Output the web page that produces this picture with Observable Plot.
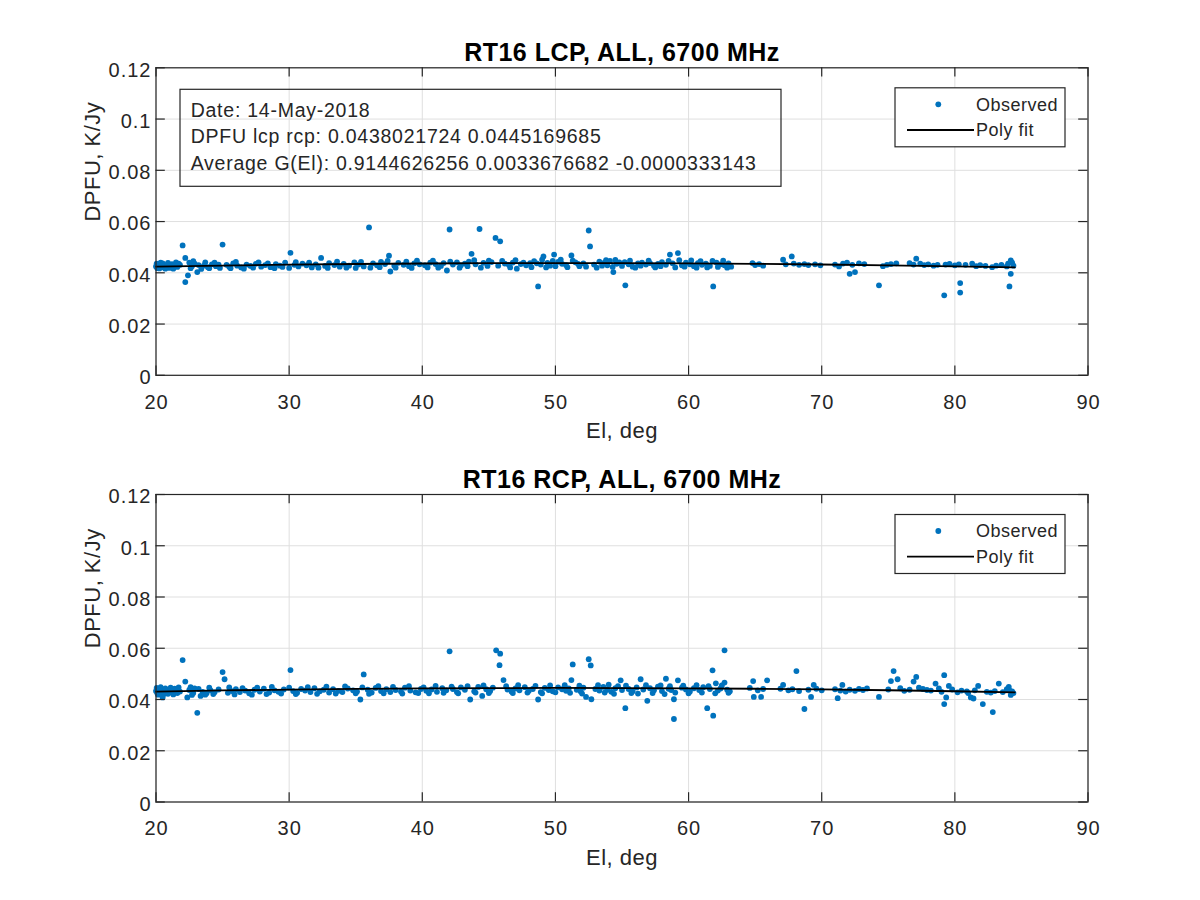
<!DOCTYPE html>
<html>
<head>
<meta charset="utf-8">
<script src="https://cdn.jsdelivr.net/npm/d3@7"></script>
<script src="https://cdn.jsdelivr.net/npm/@observablehq/plot@0.6"></script>
<style>
  html, body { margin: 0; padding: 0; background: #fff; }
  #chart svg { display: block; }
</style>
</head>
<body>
<div id="chart"></div>
<script>
// ---------- tick values ----------
const xTicks = [20, 30, 40, 50, 60, 70, 80, 90];
const yTicks = [0, 0.02, 0.04, 0.06, 0.08, 0.1, 0.12];

// ---------- titles / labels ----------
const titleLCP = "RT16 LCP, ALL, 6700 MHz";
const titleRCP = "RT16 RCP, ALL, 6700 MHz";
const xLabel = "El, deg";
const yLabel = "DPFU, K/Jy";
const boxLines = [
  "Date: 14-May-2018",
  "DPFU lcp rcp: 0.0438021724 0.0445169685",
  "Average G(El): 0.9144626256 0.0033676682 -0.0000333143"
];
const legendLabels = ["Observed", "Poly fit"];

// ---------- poly fit (El, DPFU) ----------
const fitEl  = [20, 25, 30, 35, 40, 45, 50, 55, 60, 65, 70, 75, 80, 84.5];
const fitLCP = [0.04242, 0.04283, 0.04317, 0.04343, 0.04362, 0.04374, 0.04378, 0.04375, 0.04365, 0.04348, 0.04323, 0.04291, 0.04252, 0.04210];
const fitRCP = [0.04311, 0.04353, 0.04387, 0.04414, 0.04433, 0.04445, 0.04450, 0.04447, 0.04437, 0.04419, 0.04394, 0.04361, 0.04321, 0.04279];

// ---------- observed LCP [El, DPFU] ----------
const obsLCP = [
  [20.0,.0425],[20.1,.0418],[20.2,.0432],[20.3,.0428],[20.4,.0421],[20.5,.0437],[20.6,.0424],[20.8,.0430],
  [21.0,.0419],[21.2,.0434],[21.4,.0427],[21.6,.0423],[21.8,.0431],[22.5,.0440],[22.7,.0426],[22.9,.0436],
  [23.4,.0415],[23.6,.0428],[23.9,.0422],[24.2,.0433],[24.5,.0426],[24.8,.0419],[25.3,.0431],[25.5,.0424],
  [25.8,.0437],[26.1,.0428],[26.4,.0421],[26.8,.0432],[27.1,.0427],[27.5,.0435],[27.9,.0424],[28.2,.0430],
  [28.6,.0422],[29.0,.0434],[29.3,.0428],[29.7,.0440],[30.4,.0431],[30.7,.0425],[31.0,.0436],[31.3,.0429],
  [31.7,.0421],[32.0,.0433],[32.7,.0427],[33.0,.0438],[33.4,.0430],[33.8,.0424],[34.1,.0435],[34.5,.0428],
  [34.9,.0441],[35.2,.0432],[35.6,.0425],[36.3,.0437],[36.6,.0429],[36.9,.0443],[37.2,.0434],[37.9,.0428],
  [38.2,.0439],[38.6,.0431],[39.0,.0426],[39.4,.0437],[39.8,.0433],[40.2,.0429],[40.6,.0440],[41.0,.0434],
  [41.4,.0427],[41.6,.0438],[42.3,.0432],[42.6,.0441],[42.9,.0429],[43.2,.0436],[43.5,.0444],[44.0,.0433],
  [44.6,.0439],[44.9,.0427],[45.2,.0442],[46.2,.0436],[46.5,.0431],[46.8,.0440],[47.4,.0434],[47.8,.0429],
  [48.1,.0438],[48.4,.0445],[48.9,.0432],[49.4,.0439],[49.6,.0428],[50.2,.0443],[50.5,.0435],[50.8,.0430],
  [51.5,.0441],[51.8,.0426],[52.1,.0437],[52.9,.0432],[53.3,.0444],[53.6,.0438],[53.9,.0429],[54.1,.0446],
  [54.6,.0435],[54.8,.0441],[55.0,.0427],[55.5,.0433],[55.8,.0424],[56.2,.0437],[56.5,.0440],[56.8,.0432],
  [57.1,.0438],[57.4,.0428],[57.7,.0435],[58.0,.0442],[58.3,.0431],[58.8,.0437],[59.5,.0429],[59.8,.0440],
  [60.1,.0433],[60.4,.0426],[60.7,.0438],[61.0,.0431],[61.3,.0436],[61.6,.0427],[62.1,.0440],[62.4,.0433],
  [62.7,.0429],[63.0,.0437],[63.2,.0424],[64.8,.0438],[65.0,.0430],[65.3,.0434],[65.6,.0428],[67.3,.0433],
  [67.9,.0436],[68.3,.0431],[68.7,.0434],[69.0,.0430],[69.5,.0433],[69.9,.0429],[71.0,.0432],[71.3,.0425],
  [71.6,.0436],[71.9,.0440],[72.3,.0431],[72.8,.0437],[73.2,.0434],[74.6,.0426],[74.9,.0431],[75.2,.0434],
  [75.6,.0437],[76.6,.0438],[76.9,.0432],[77.4,.0436],[77.7,.0430],[78.0,.0433],[78.4,.0428],[78.7,.0431],
  [79.3,.0432],[79.6,.0435],[80.0,.0429],[80.3,.0433],[80.8,.0431],[81.3,.0436],[81.6,.0426],[81.9,.0430],
  [82.3,.0427],[82.8,.0422],[83.1,.0428],[83.5,.0431],[83.9,.0425],[84.0,.0436],[84.3,.0440],[84.4,.0428],
  [20.05,.0436],[20.15,.0422],[20.25,.0417],[20.35,.0440],[20.45,.0429],[20.7,.0416],[20.9,.0439],[21.1,.0426],
  [21.3,.0416],[21.5,.0441],[21.7,.0436],[22.6,.0418],[22.8,.0445],[23.2,.0430],[23.7,.0441],[24.0,.0418],
  [24.4,.0440],[24.7,.0432],[25.6,.0418],[26.0,.0443],[26.6,.0416],[27.3,.0420],[27.7,.0441],[28.4,.0437],
  [28.9,.0418],[29.5,.0423],[30.0,.0419],[30.5,.0442],[31.5,.0440],[32.2,.0420],[32.9,.0419],[33.6,.0444],
  [34.3,.0420],[35.0,.0419],[35.4,.0443],[36.1,.0420],[36.8,.0422],[37.4,.0446],[38.0,.0420],[38.8,.0444],
  [39.2,.0419],[39.6,.0447],[40.4,.0421],[40.8,.0447],[41.2,.0420],[42.1,.0444],[42.8,.0420],[43.4,.0426],
  [43.9,.0449],[44.4,.0420],[45.0,.0447],[45.7,.0428],[46.0,.0446],[46.6,.0421],[47.0,.0449],[47.6,.0440],
  [48.2,.0422],[48.6,.0437],[49.0,.0451],[49.3,.0421],[49.8,.0446],[50.0,.0426],[50.4,.0451],[50.9,.0422],
  [51.3,.0447],[51.7,.0435],[52.3,.0424],[53.1,.0420],[53.5,.0428],[53.8,.0449],[54.3,.0423],[54.5,.0450],
  [55.2,.0442],[55.6,.0447],[56.0,.0420],[56.4,.0428],[57.0,.0447],[57.5,.0421],[57.9,.0426],[58.5,.0446],
  [59.0,.0421],[59.3,.0449],[59.7,.0424],[60.2,.0448],[60.6,.0420],[60.9,.0445],[61.4,.0421],[61.8,.0446],
  [62.2,.0423],[62.6,.0447],[62.9,.0420],
  [22.0,.0507],[22.2,.0364],[22.4,.0390],[22.2,.0458],[25.0,.0510],[23.1,.0403],[30.1,.0478],[32.4,.0458],
  [36.0,.0577],[37.5,.0467],[37.6,.0405],[42.05,.0569],[44.3,.0571],[45.5,.0536],[45.85,.0523],[43.7,.0474],
  [48.7,.0347],[49.1,.0464],[49.9,.0471],[51.2,.0468],[52.5,.0565],[52.6,.0503],[41.85,.0409],[47.1,.0416],
  [54.35,.0403],[55.25,.0351],[58.6,.0471],[59.2,.0477],[61.85,.0347],[67.1,.0451],[67.75,.0464],[72.1,.0396],
  [72.5,.0403],[74.3,.0351],[79.2,.0312],[80.4,.0360],[80.4,.0323],[84.2,.0396],[84.1,.0347],[77.1,.0455],
  [84.2,.0448]
];

// ---------- observed RCP [El, DPFU] ----------
const obsRCP = [
  [20.0,.0433],[20.1,.0424],[20.2,.0440],[20.3,.0429],[20.4,.0436],[20.6,.0421],[20.8,.0438],[21.0,.0427],
  [21.2,.0434],[21.4,.0442],[21.6,.0425],[21.8,.0431],[22.5,.0437],[22.7,.0418],[22.9,.0443],[23.5,.0430],
  [23.8,.0424],[24.1,.0436],[24.4,.0428],[24.7,.0439],[25.4,.0426],[25.7,.0433],[26.0,.0440],[26.3,.0429],
  [26.7,.0435],[27.0,.0424],[27.4,.0438],[27.8,.0431],[28.1,.0442],[28.5,.0427],[28.9,.0436],[29.2,.0430],
  [29.6,.0439],[30.3,.0433],[30.6,.0426],[30.9,.0441],[31.2,.0435],[31.6,.0429],[31.9,.0444],[32.3,.0432],
  [32.6,.0438],[33.0,.0427],[33.3,.0440],[33.7,.0434],[34.0,.0429],[34.4,.0443],[34.8,.0436],[35.1,.0431],
  [35.9,.0438],[36.2,.0427],[36.5,.0445],[36.9,.0433],[37.3,.0440],[37.6,.0429],[38.0,.0437],[38.4,.0431],
  [38.7,.0446],[39.1,.0435],[39.5,.0428],[39.9,.0441],[40.3,.0434],[40.7,.0439],[41.1,.0430],[41.5,.0444],
  [41.8,.0436],[42.3,.0441],[42.6,.0429],[42.9,.0447],[43.2,.0438],[43.9,.0432],[44.2,.0449],[44.8,.0440],
  [45.1,.0433],[45.3,.0446],[46.4,.0439],[46.7,.0431],[47.0,.0443],[47.3,.0436],[47.7,.0448],[48.0,.0434],
  [48.3,.0441],[48.9,.0429],[49.2,.0445],[49.5,.0437],[49.8,.0432],[50.2,.0447],[50.5,.0440],[50.8,.0434],
  [51.0,.0443],[51.6,.0438],[51.9,.0431],[52.1,.0446],[53.0,.0441],[53.3,.0435],[53.6,.0449],[53.9,.0438],
  [54.2,.0430],[54.5,.0444],[54.7,.0452],[55.0,.0437],[55.5,.0441],[55.8,.0432],[56.1,.0447],[56.6,.0439],
  [57.1,.0444],[57.4,.0436],[57.7,.0450],[58.0,.0433],[58.5,.0442],[58.7,.0437],[59.5,.0446],[59.8,.0439],
  [60.1,.0431],[60.4,.0444],[60.8,.0437],[61.1,.0448],[61.6,.0441],[62.2,.0435],[62.4,.0443],[62.9,.0438],
  [63.1,.0432],[64.6,.0445],[65.2,.0436],[65.6,.0441],[66.9,.0442],[67.5,.0436],[67.8,.0440],[68.3,.0433],
  [69.0,.0438],[69.6,.0442],[70.0,.0436],[71.0,.0440],[71.4,.0435],[71.8,.0431],[72.1,.0438],[72.5,.0434],
  [72.8,.0441],[73.1,.0437],[73.4,.0443],[75.0,.0439],[75.9,.0444],[76.2,.0434],[76.6,.0438],[77.3,.0446],
  [77.6,.0441],[77.9,.0437],[78.2,.0435],[78.8,.0443],[79.0,.0430],[79.8,.0439],[80.2,.0428],[80.5,.0435],
  [80.9,.0432],[81.0,.0425],[81.5,.0436],[82.4,.0430],[82.7,.0427],[83.0,.0433],[83.6,.0429],[83.9,.0440],
  [84.1,.0436],[84.3,.0432],[84.4,.0425],
  [20.05,.0445],[20.15,.0419],[20.25,.0427],[20.35,.0448],[20.45,.0417],[20.7,.0443],[20.9,.0422],[21.1,.0446],
  [21.3,.0420],[21.5,.0430],[21.7,.0447],[22.6,.0448],[22.8,.0425],[23.2,.0441],[23.7,.0419],[24.0,.0446],
  [24.3,.0421],[25.5,.0447],[25.9,.0420],[26.5,.0444],[27.2,.0419],[27.6,.0446],[28.3,.0421],[28.7,.0449],
  [29.4,.0423],[30.0,.0446],[30.5,.0421],[31.4,.0448],[32.1,.0422],[32.8,.0450],[33.5,.0423],[34.2,.0451],
  [35.0,.0424],[35.5,.0447],[36.0,.0422],[36.7,.0452],[37.1,.0424],[37.8,.0449],[38.5,.0423],[39.0,.0452],
  [39.7,.0425],[40.1,.0447],[40.5,.0424],[41.0,.0453],[41.6,.0426],[42.2,.0450],[42.7,.0424],[43.4,.0452],
  [44.0,.0427],[44.6,.0455],[45.0,.0425],[46.3,.0452],[46.8,.0425],[47.2,.0456],[47.9,.0427],[48.5,.0453],
  [49.0,.0424],[49.6,.0455],[50.0,.0428],[50.7,.0456],[51.1,.0426],[51.8,.0454],[52.0,.0423],[53.2,.0456],
  [53.7,.0427],[54.0,.0458],[54.4,.0422],[55.3,.0454],[55.7,.0425],[56.2,.0423],[56.8,.0456],[57.3,.0425],
  [57.9,.0455],[58.2,.0421],[58.6,.0452],[59.0,.0427],[59.6,.0454],[60.0,.0424],[60.6,.0456],[61.0,.0427],
  [61.5,.0452],[62.0,.0424],[62.5,.0455],[63.0,.0426],
  [22.0,.0554],[22.2,.0470],[23.1,.0348],[25.0,.0507],[25.15,.0479],[30.1,.0515],[35.6,.0498],[35.35,.0400],
  [42.05,.0588],[43.6,.0400],[45.55,.0592],[45.85,.0579],[45.8,.0534],[46.1,.0476],[48.7,.0400],[51.3,.0537],
  [51.2,.0476],[52.5,.0557],[52.65,.0533],[52.7,.0401],[52.3,.0410],[20.5,.0408],[22.35,.0408],[23.35,.0414],
  [44.5,.0414],[55.25,.0366],[56.9,.0395],[54.9,.0475],[56.4,.0479],[58.3,.0481],[58.9,.0324],[58.9,.0401],
  [59.2,.0475],[61.4,.0366],[61.85,.0337],[61.8,.0514],[62.7,.0592],[62.05,.0463],[62.7,.0466],[64.85,.0472],
  [64.9,.0410],[65.45,.0410],[65.9,.0475],[67.1,.0457],[68.1,.0511],[68.7,.0363],[69.2,.0410],[69.4,.0457],
  [71.2,.0405],[71.55,.0457],[74.3,.0410],[75.4,.0511],[75.7,.0479],[75.2,.0472],[77.1,.0488],[76.9,.0470],
  [78.55,.0462],[79.2,.0495],[79.2,.0382],[79.35,.0408],[79.55,.0453],[81.2,.0408],[81.4,.0404],[81.75,.0453],
  [82.1,.0382],[82.85,.0351],[83.3,.0462],[84.2,.0418],[84.05,.0449]
];

// ---------- styles ----------
const BLUE = "#0072BD";
const AX = "#262626";
const GRID = "#dfdfdf";
const FONT = "'Liberation Sans', Arial, Helvetica, sans-serif";
const fmtY = d => String(+d.toFixed(2));

function panel({title, obs, fitVals, mTop, mBottom, withBox}) {
  const W = 1200, H = 450, mL = 155.5, mR = 112.5;
  const pw = W - mL - mR, ph = H - mTop - mBottom;
  const fit = fitEl.map((e, i) => ({el: e, v: fitVals[i]}));
  const pts = obs.map(([el, v]) => ({el, v}));
  const tl = 9.3;
  const svg = Plot.plot({
    width: W, height: H,
    marginLeft: mL, marginRight: mR, marginTop: mTop, marginBottom: mBottom,
    style: {fontFamily: FONT, background: "#fff", overflow: "visible"},
    x: {domain: [20, 90], axis: null},
    y: {domain: [0, 0.12], axis: null},
    marks: [
      Plot.ruleX(xTicks, {x: d => d, stroke: GRID, strokeWidth: 1}),
      Plot.ruleY(yTicks, {y: d => d, stroke: GRID, strokeWidth: 1}),
      Plot.dot(pts, {x: "el", y: "v", r: 2.9, fill: BLUE, stroke: "none"}),
      Plot.line(fit, {x: "el", y: "v", stroke: "#000", strokeWidth: 1.8}),
      Plot.ruleX(xTicks, {x: d => d, stroke: AX, strokeWidth: 1.2, insetTop: ph - tl}),
      Plot.ruleX(xTicks, {x: d => d, stroke: AX, strokeWidth: 1.2, insetBottom: ph - tl}),
      Plot.ruleY(yTicks, {y: d => d, stroke: AX, strokeWidth: 1.2, insetRight: pw - tl}),
      Plot.ruleY(yTicks, {y: d => d, stroke: AX, strokeWidth: 1.2, insetLeft: pw - tl}),
      Plot.frame({stroke: AX, strokeWidth: 1.2}),
      Plot.text(xTicks, {x: d => d, text: d => String(d), frameAnchor: "bottom", lineAnchor: "top",
        dy: 19, dx: 0.5, fontSize: 20, fill: AX}),
      Plot.text(yTicks, {y: d => d, text: fmtY, frameAnchor: "left", textAnchor: "end",
        dx: -4.5, dy: 2.5, fontSize: 20, fill: AX}),
      Plot.text([xLabel], {frameAnchor: "bottom", lineAnchor: "middle", dy: 56,
        fontSize: 22, fill: AX}),
      Plot.text([yLabel], {frameAnchor: "left", rotate: -90, lineAnchor: "middle", dx: -63.5,
        fontSize: 22, fill: AX}),
      Plot.text([title], {frameAnchor: "top", lineAnchor: "middle", dy: -15,
        fontSize: 25, fontWeight: "bold", fill: "#000"})
    ]
  });

  const root = d3.select(svg);
  // slight letter spacing: MATLAB glyphs render a little wider than Liberation Sans
  root.selectAll('g[font-size="20"]').attr("letter-spacing", "1px");
  root.selectAll('g[font-size="22"]').attr("letter-spacing", "0.5px");
  root.selectAll('g[font-size="25"]').attr("letter-spacing", "0.5px");

  // legend
  const lg = root.append("g")
    .attr("transform", `translate(${mL},${mTop})`)
    .attr("font-family", FONT).attr("font-size", 18).attr("fill", AX)
    .attr("text-anchor", "start").attr("letter-spacing", "0.5px");
  lg.append("rect").attr("x", 739.5).attr("y", 20.5).attr("width", 170).attr("height", 59)
    .attr("fill", "#fff").attr("stroke", AX).attr("stroke-width", 1.2);
  lg.append("circle").attr("cx", 782.8).attr("cy", 37).attr("r", 2.9).attr("fill", BLUE);
  lg.append("line").attr("x1", 751.5).attr("x2", 818.5).attr("y1", 62.7).attr("y2", 62.7)
    .attr("stroke", "#000").attr("stroke-width", 1.8);
  lg.append("text").attr("x", 820.5).attr("y", 37).attr("dy", "0.35em").text(legendLabels[0]);
  lg.append("text").attr("x", 820.5).attr("y", 62.7).attr("dy", "0.35em").text(legendLabels[1]);

  if (withBox) {
    const bx = root.append("g")
      .attr("transform", `translate(${mL},${mTop})`)
      .attr("font-family", FONT).attr("font-size", 19.5).attr("fill", AX)
      .attr("text-anchor", "start").attr("letter-spacing", "0.75px");
    bx.append("rect").attr("x", 24.5).attr("y", 22).attr("width", 601).attr("height", 97)
      .attr("fill", "none").attr("stroke", AX).attr("stroke-width", 1.2);
    const bl = [49.7, 76.2, 102.7];
    boxLines.forEach((t, i) => {
      bx.append("text").attr("x", 35.2).attr("y", bl[i]).text(t);
    });
  }
  return svg;
}

const chart = document.getElementById("chart");
chart.appendChild(panel({title: titleLCP, obs: obsLCP, fitVals: fitLCP, mTop: 67.3, mBottom: 75.2, withBox: true}));
chart.appendChild(panel({title: titleRCP, obs: obsRCP, fitVals: fitRCP, mTop: 44, mBottom: 98.5, withBox: false}));
</script>
</body>
</html>
